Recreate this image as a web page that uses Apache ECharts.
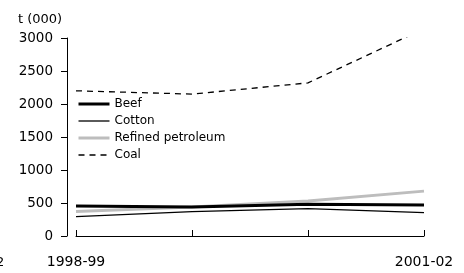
<!DOCTYPE html>
<html><head><meta charset="utf-8">
<script src="https://cdn.jsdelivr.net/npm/echarts@6/dist/echarts.min.js"></script>
<style>html,body{margin:0;padding:0;background:#fff}#c{width:464px;height:273px}</style>
</head><body><div id="c"></div>
<script>
const categories = ['1998-99', '1999-00', '2000-01', '2001-02'];
const beef = [455, 440, 480, 470];
const cotton = [295, 370, 415, 355];
const refinedPetroleum = [370, 440, 530, 680];
const coal = [2200, 2150, 2320, 3140];
const yTicks = [0, 500, 1000, 1500, 2000, 2500, 3000];
const yTitle = 't (000)';

const FONT = 'DejaVu Sans';
const chart = echarts.init(document.getElementById('c'), null, {renderer: 'canvas'});
chart.setOption({
  animation: false,
  textStyle: {fontFamily: FONT, color: '#000'},
  title: {text: yTitle, left: 13, top: 8, textStyle: {fontFamily: FONT, fontSize: 13, fontWeight: 'normal', color: '#000'}},
  graphic: [{type: 'text', left: -4, top: 256, style: {text: '2', font: '13px "DejaVu Sans"', fill: '#000'}}],
  legend: {
    orient: 'vertical', left: 77, top: 98, padding: 0, itemWidth: 31, itemHeight: 12, itemGap: 5,
    textStyle: {fontFamily: FONT, fontSize: 12, color: '#000'},
    itemStyle: {opacity: 0},
    data: [
      {name: 'Beef', lineStyle: {width: 3, color: '#000'}},
      {name: 'Cotton', lineStyle: {width: 1.3, color: '#000'}},
      {name: 'Refined petroleum', lineStyle: {width: 3, color: '#bdbdbd'}},
      {name: 'Coal', lineStyle: {width: 1.3, color: '#000', type: [6, 5]}}
    ]
  },
  grid: {left: 76, right: 40, top: 38, bottom: 37, containLabel: false},
  xAxis: {
    type: 'category', data: categories, boundaryGap: false, offset: 9,
    axisLine: {lineStyle: {color: '#000', width: 1}},
    axisTick: {inside: true, length: 6, interval: 0, lineStyle: {color: '#000'}},
    axisLabel: {
      fontFamily: FONT, fontSize: 14, fontWeight: 'normal', color: '#000', margin: 10,
      interval: 0,
      formatter: (v, i) => (i === 0 || i === categories.length - 1) ? v : ''
    },
    splitLine: {show: false}
  },
  yAxis: {
    type: 'value', min: yTicks[0], max: yTicks[yTicks.length - 1], interval: 500, offset: 9,
    axisLine: {show: true, lineStyle: {color: '#000', width: 1}},
    axisTick: {show: true, length: 6, lineStyle: {color: '#000'}},
    axisLabel: {fontFamily: FONT, fontSize: 13.5, color: '#000', margin: 14, formatter: v => String(v)},
    splitLine: {show: false}
  },
  series: [
    {name: 'Beef', type: 'line', data: beef, symbol: 'none', lineStyle: {color: '#000', width: 3}, itemStyle: {color: '#000'}, z: 4},
    {name: 'Cotton', type: 'line', data: cotton, symbol: 'none', lineStyle: {color: '#000', width: 1.3}, itemStyle: {color: '#000'}, z: 3},
    {name: 'Refined petroleum', type: 'line', data: refinedPetroleum, symbol: 'none', lineStyle: {color: '#bdbdbd', width: 3}, itemStyle: {color: '#bdbdbd'}, z: 2},
    {name: 'Coal', type: 'line', data: coal, symbol: 'none', lineStyle: {color: '#000', width: 1.3, type: [6, 5]}, itemStyle: {color: '#000'}, z: 3}
  ]
});
</script></body></html>
